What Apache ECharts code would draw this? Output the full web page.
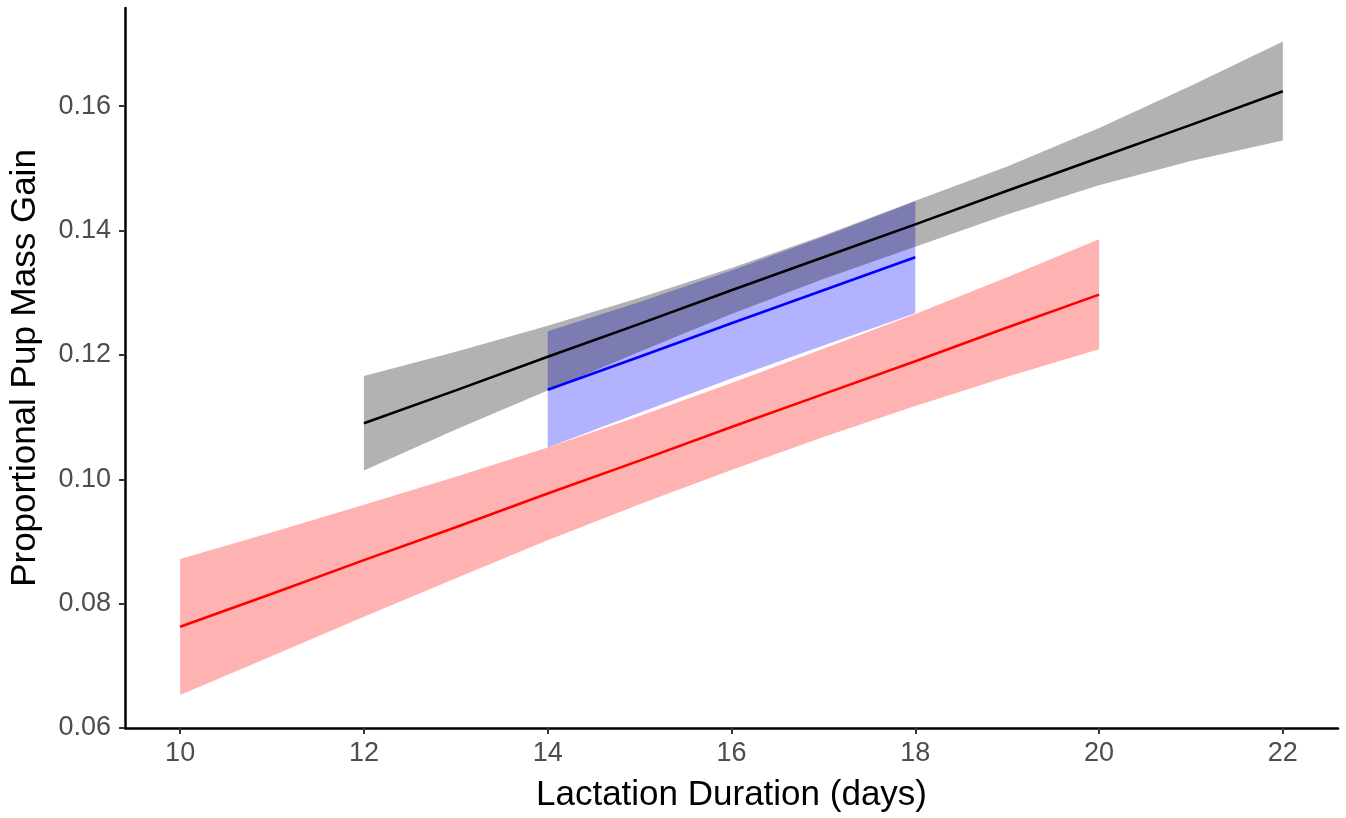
<!DOCTYPE html>
<html style="height: 100%">
<head>
    <meta charset="utf-8" />
    <title>Proportional Pup Mass Gain</title>
    <script type="text/javascript" src="https://cdn.jsdelivr.net/npm/echarts@6.0.0/dist/echarts.min.js"></script>
</head>
<body style="height: 100%; margin: 0; background: #fff">
    <div id="container" style="width: 1346px; height: 818px"></div>
</body>
</html>
<script type="text/javascript">
    // tick labels
    var xTicks = [10, 12, 14, 16, 18, 20, 22];
    var yTicks = [0.06, 0.08, 0.10, 0.12, 0.14, 0.16];

    // red group
    var redDays = [10, 11, 12, 13, 14, 15, 16, 17, 18, 19, 20];
    var redFit  = [0.0763, 0.0816, 0.0870, 0.0923, 0.0977, 0.1030, 0.1084, 0.1137, 0.1190, 0.1244, 0.1297];
    var redHigh = [0.0872, 0.0915, 0.0959, 0.1004, 0.1051, 0.1102, 0.1155, 0.1210, 0.1266, 0.1325, 0.1386];
    var redLow  = [0.0653, 0.0716, 0.0779, 0.0841, 0.0902, 0.0960, 0.1015, 0.1068, 0.1118, 0.1165, 0.1209];

    // blue group
    var blueDays = [14, 15, 16, 17, 18];
    var blueFit  = [0.1144, 0.1197, 0.1251, 0.1304, 0.1357];
    var blueHigh = [0.1238, 0.1285, 0.1336, 0.1390, 0.1447];
    var blueLow  = [0.1051, 0.1107, 0.1162, 0.1215, 0.1267];

    // black group
    var blackDays = [12, 13, 14, 15, 16, 17, 18, 19, 20, 21, 22];
    var blackFit  = [0.1090, 0.1143, 0.1197, 0.1250, 0.1304, 0.1357, 0.1410, 0.1464, 0.1517, 0.1570, 0.1624];
    var blackHigh = [0.1166, 0.1205, 0.1247, 0.1292, 0.1340, 0.1392, 0.1448, 0.1503, 0.1565, 0.1633, 0.1704];
    var blackLow  = [0.1014, 0.1080, 0.1143, 0.1205, 0.1266, 0.1322, 0.1374, 0.1426, 0.1473, 0.1512, 0.1545];

    var font = "'Liberation Sans', Arial, sans-serif";

    // confidence band as one polygon: upper edge left->right, lower edge back
    function band(days, low, high, fill) {
        return {
            type: 'custom',
            silent: true,
            data: days.map((d, i) => [d, low[i], high[i]]),
            encode: { x: 0, y: [1, 2] },
            renderItem: function (params, api) {
                if (params.dataIndex !== 0) return;
                var pts = [];
                for (var i = 0; i < days.length; i++) pts.push(api.coord([days[i], high[i]]));
                for (var j = days.length - 1; j >= 0; j--) pts.push(api.coord([days[j], low[j]]));
                return {
                    type: 'polygon',
                    shape: { points: pts },
                    style: { fill: fill, stroke: null }
                };
            }
        };
    }

    function fitLine(days, fit, color) {
        return {
            type: 'line', symbol: 'none', silent: true,
            data: days.map((d, i) => [d, fit[i]]),
            lineStyle: { color: color, width: 2.6 }
        };
    }

    var series = [
        band(redDays, redLow, redHigh, 'rgba(255,0,0,0.3)'),
        band(blueDays, blueLow, blueHigh, 'rgba(0,0,255,0.3)'),
        band(blackDays, blackLow, blackHigh, 'rgba(0,0,0,0.3)'),
        fitLine(redDays, redFit, '#ff0000'),
        fitLine(blueDays, blueFit, '#0000ff'),
        fitLine(blackDays, blackFit, '#000000')
    ];

    var myChart = echarts.init(document.getElementById('container'));
    var option = {
        animation: false,
        backgroundColor: '#ffffff',
        grid: { left: 125, right: 8, top: 8, bottom: 90 },
        xAxis: {
            type: 'value',
            min: 9.4,
            max: 22.6,
            name: 'Lactation Duration (days)',
            nameLocation: 'middle',
            nameGap: 50,
            nameTextStyle: { color: '#000', fontSize: 35, fontFamily: font },
            splitLine: { show: false },
            axisLine: { lineStyle: { color: '#000', width: 2.5 } },
            axisTick: { customValues: xTicks, length: 6, lineStyle: { color: '#333', width: 2 } },
            axisLabel: { customValues: xTicks, color: '#4d4d4d', fontSize: 27, fontFamily: font, margin: 12 }
        },
        yAxis: {
            type: 'value',
            min: 0.06,
            max: 0.1758,
            name: 'Proportional Pup Mass Gain',
            nameLocation: 'middle',
            nameGap: 82,
            nameTextStyle: { color: '#000', fontSize: 35, fontFamily: font },
            splitLine: { show: false },
            axisLine: { show: true, lineStyle: { color: '#000', width: 2.5 } },
            axisTick: { show: true, customValues: yTicks, length: 6, lineStyle: { color: '#333', width: 2 } },
            axisLabel: {
                customValues: yTicks, color: '#4d4d4d', fontSize: 27, fontFamily: font, margin: 14,
                formatter: function (v) { return v.toFixed(2); }
            }
        },
        series: series
    };
    myChart.setOption(option);
</script>
